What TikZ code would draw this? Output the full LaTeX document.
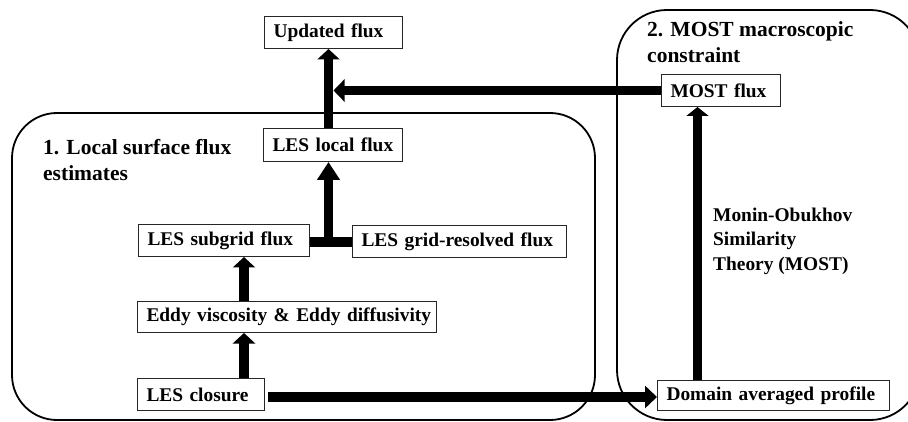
\documentclass[tikz,border=0pt]{standalone}
\usepackage{fontspec}
\setmainfont{Liberation Serif}
\usetikzlibrary{arrows.meta,calc}

\tikzset{
  lbl/.style={font=\fontsize{19.4}{24}\selectfont\bfseries, inner sep=0pt, anchor=base west},
  title/.style={lbl, font=\fontsize{21.5}{26}\selectfont\bfseries},
  fbox/.style={draw=black!85, line width=1pt, anchor=north west, inner xsep=9pt, inner ysep=0pt,
    minimum height=#1, align=left, font=\fontsize{19.4}{24}\selectfont\bfseries},
  fbox/.default=32pt,
  region/.style={draw=black, line width=1.8pt},
  fat/.style={line width=9.5pt},
  arr/.style={fat, -{Triangle[width=22pt,length=#1]}},
  arr/.default=10.5pt
}

\begin{document}
\begin{tikzpicture}[x=1pt,y=-1pt]
  \useasboundingbox (0,0) rectangle (908,422);

  % the two grouping regions
  \draw[region, rounded corners=45pt] (12,113) rectangle (595,420);
  \begin{scope}
    \clip (0,0) rectangle (908,422);
    \draw[region, rounded corners=50pt] (617,10) rectangle (920,420);
  \end{scope}

  % region titles
  \node[title] (t1a) at (43,155) {1. Local surface flux};
  \node[title] (t1b) at (43,181) {estimates};
  \node[title] (t2a) at (647,37) {2. MOST macroscopic};
  \node[title] (t2b) at (647,63) {constraint};

  % theory label
  \node[lbl] (m1) at (713,222) {Monin-Obukhov};
  \node[lbl] (m2) at (713,246) {Similarity};
  \node[lbl] (m3) at (713,270) {Theory (MOST)};

  % flux boxes
  \node[fbox, text width=120pt] (upd) at (264,16) {\mbox{Updated flux}};
  \node[fbox=33pt, text width=121pt] (loc) at (263,128) {\mbox{LES local flux}};
  \node[fbox, text width=101pt] (most) at (661,74) {\mbox{MOST flux}};
  \node[fbox, text width=153pt] (sub) at (138,224) {\mbox{LES subgrid flux}};
  \node[fbox, text width=196pt] (grid) at (352,225) {\mbox{LES grid-resolved flux}};
  \node[fbox=31pt, text width=281pt] (eddy) at (137,301) {\mbox{Eddy viscosity \& Eddy diffusivity}};
  \node[fbox, text width=109pt] (clos) at (137,378) {\mbox{LES closure}};
  \node[fbox=30pt, text width=214pt] (dom) at (657,380) {\mbox{Domain averaged profile}};

  % helper coordinates for the connector lines
  \coordinate (jx) at (328.5,242);
  \coordinate (ax) at (244,0);
  \coordinate (mx) at (697.5,0);
  \coordinate (sx) at (333.5,0);
  \coordinate (hy) at (0,397);

  % merging of subgrid and resolved fluxes
  \draw[fat] (sub.east |- jx) -- (grid.west |- jx);
  \draw[arr=18pt] (jx) -- (loc.south -| jx);
  \draw[arr] (loc.north -| jx) -- (upd.south -| jx);

  % MOST flux feeds the update
  \draw[arr=11pt] (most.west) -- (most.west -| sx);

  % closure chain
  \draw[arr] (eddy.north -| ax) -- (sub.south -| ax);
  \draw[arr] (clos.north -| ax) -- (eddy.south -| ax);
  \draw[arr=12pt, shorten <=3pt] (clos.east |- hy) -- (dom.west |- hy);
  \draw[arr=9pt] (dom.north -| mx) -- (most.south -| mx);
\end{tikzpicture}
\end{document}
